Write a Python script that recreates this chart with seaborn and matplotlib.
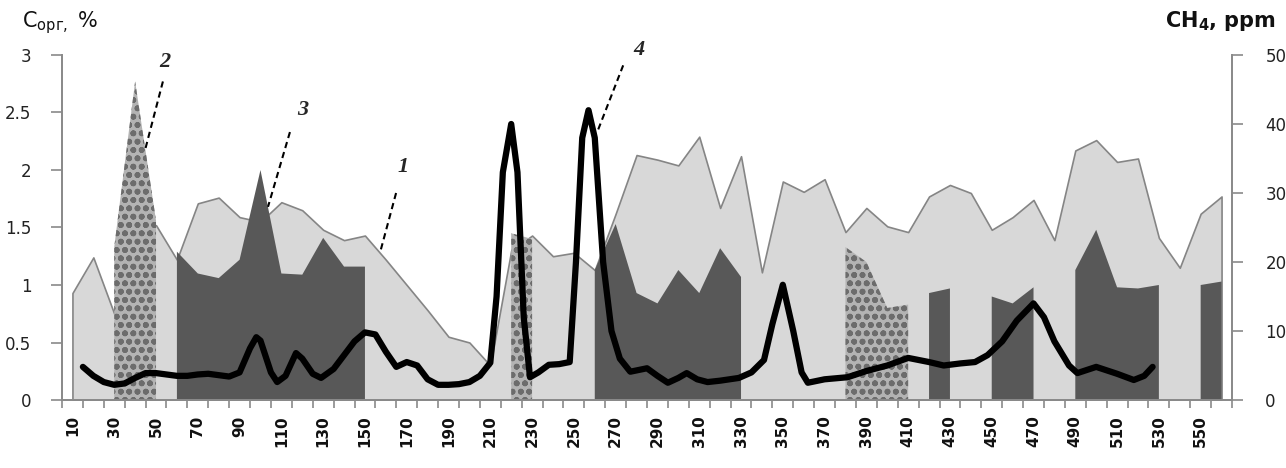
import numpy as np
import matplotlib
matplotlib.use("Agg")
import matplotlib.pyplot as plt
import seaborn as sns

# depth categories (every 10 units)
depth = list(range(10, 561, 10))

# 1 - C org, light grey area (%)
c_org = [0.93, 1.24, 0.75, 1.50, 1.52, 1.22, 1.71, 1.76, 1.59, 1.55,
         1.72, 1.65, 1.48, 1.39, 1.43, 1.22, 1.00, 0.78, 0.55, 0.50,
         0.30, 1.30, 1.43, 1.25, 1.28, 1.13, 1.62, 2.13, 2.09, 2.04,
         2.29, 1.67, 2.12, 1.11, 1.90, 1.81, 1.92, 1.46, 1.67, 1.51,
         1.46, 1.77, 1.87, 1.80, 1.48, 1.59, 1.74, 1.39, 2.17, 2.26,
         2.07, 2.10, 1.41, 1.15, 1.62, 1.77]

# 3 - dark grey intervals (%), NaN = no layer
nan = np.nan
c_dark = [nan, nan, nan, nan, nan, 1.29, 1.10, 1.06, 1.22, 2.00,
          1.10, 1.09, 1.41, 1.16, 1.16, nan, nan, nan, nan, nan,
          nan, nan, nan, nan, nan, 1.13, 1.53, 0.93, 0.84, 1.13,
          0.93, 1.32, 1.07, nan, nan, nan, nan, nan, nan, nan,
          nan, 0.93, 0.97, nan, 0.90, 0.84, 0.98, nan, 1.13, 1.48,
          0.98, 0.97, 1.00, nan, 1.00, 1.03]

# 2 - textured intervals (%)
c_tex = [nan, nan, 1.33, 2.77, 1.56, nan, nan, nan, nan, nan,
         nan, nan, nan, nan, nan, nan, nan, nan, nan, nan,
         nan, 1.45, 1.40, nan, nan, nan, nan, nan, nan, nan,
         nan, nan, nan, nan, nan, nan, nan, 1.33, 1.20, 0.80,
         0.83, nan, nan, nan, nan, nan, nan, nan, nan, nan,
         nan, nan, nan, nan, nan, nan]

# 4 - CH4 (ppm), right axis
ch4_depth = [15, 20, 25, 30, 35, 40, 45, 50, 55, 60, 65, 70, 75, 80, 85, 90, 95, 98,
             100, 105, 108, 112, 117, 120, 125, 129, 135, 140, 145, 150, 155, 160,
             165, 170, 175, 180, 185, 190, 195, 200, 205, 210, 213, 216, 220, 223,
             226, 229, 233, 238, 243, 248, 251, 254, 257, 260, 264, 268, 272, 277,
             285, 290, 295, 300, 304, 309, 314, 320, 329, 335, 341, 345, 350, 355,
             359, 362, 370, 381, 390, 400, 410, 420, 427, 435, 442, 448, 455, 462,
             470, 475, 480, 487, 491, 500, 510, 518, 523, 527]
ch4_ppm = [4.8, 3.5, 2.6, 2.2, 2.4, 3.2, 3.9, 3.9, 3.7, 3.5, 3.5, 3.7, 3.8, 3.6, 3.4,
           4.0, 7.5, 9.1, 8.6, 4.0, 2.6, 3.5, 6.8, 6.0, 3.8, 3.2, 4.5, 6.5, 8.5, 9.8,
           9.5, 7.0, 4.8, 5.5, 5.0, 3.0, 2.2, 2.2, 2.3, 2.6, 3.5, 5.4, 15.0, 33.0,
           40.0, 33.0, 12.0, 3.3, 4.0, 5.1, 5.2, 5.5, 20.0, 38.0, 42.0, 38.0, 20.0,
           10.0, 6.0, 4.1, 4.6, 3.5, 2.5, 3.2, 3.9, 3.0, 2.6, 2.8, 3.2, 4.0, 5.8,
           11.0, 16.7, 10.0, 4.0, 2.5, 3.0, 3.3, 4.2, 5.0, 6.1, 5.5, 5.0, 5.3, 5.5,
           6.5, 8.5, 11.5, 14.0, 12.0, 8.5, 5.0, 3.9, 4.8, 3.8, 2.9, 3.5, 4.8]

left_ticks = [0, 0.5, 1, 1.5, 2, 2.5, 3]
left_labels = ["0", "0.5", "1", "1.5", "2", "2.5", "3"]
right_ticks = [0, 10, 20, 30, 40, 50]
x_labels = list(range(10, 551, 20))

# callouts: (label, text pos, line start, line end) in data units of left axis
callouts = [("2", (54, 2.94), (53.3, 2.77), (44.7, 2.17)),
            ("3", (120, 2.52), (114.1, 2.33), (103.6, 1.68)),
            ("1", (168, 2.03), (164.9, 1.80), (157.2, 1.28)),
            ("4", (281, 3.04), (273.6, 2.91), (261.6, 2.35))]

sns.set_theme(style="white")
plt.rcParams["font.family"] = ["DejaVu Sans"]
plt.rcParams["hatch.linewidth"] = 1.8

fig = plt.figure(figsize=(12.86, 4.68), dpi=100)
ax = fig.add_axes([62 / 1286, 1 - 400 / 468, 1170 / 1286, 345 / 468])

axis_grey = "#8a8a8a"
ax.fill_between(depth, 0, c_org, facecolor="#d8d8d8", edgecolor="#858585", linewidth=1.2)
ax.fill_between(depth, 0, c_dark, facecolor="#585858", linewidth=0)
# mottled (granite-like) layer
ax.fill_between(depth, 0, c_tex, facecolor="#b3b3b3", edgecolor="#6c6c6c",
                hatch="oo", linewidth=0)

ax.set_xlim(5, 565)
ax.set_ylim(0, 3)
ax.set_xticks(x_labels)
ax.set_xticklabels([str(v) for v in x_labels], rotation=90, fontweight="bold",
                   fontsize=11, va="top")
ax.set_xticks(np.arange(5, 566, 10), minor=True)
ax.tick_params(axis="x", which="major", length=0, pad=11, colors="#111111")
ax.tick_params(axis="x", which="minor", length=6, width=1.2, color=axis_grey,
               direction="out", bottom=True)
ax.set_yticks(left_ticks)
ax.set_yticklabels(left_labels, fontsize=12, color="#222222")
ax.tick_params(axis="y", length=8, width=1.2, color=axis_grey, direction="out",
               left=True, pad=14)

ax2 = ax.twinx()
sns.lineplot(x=ch4_depth, y=ch4_ppm, ax=ax2, color="black", linewidth=4.5,
             solid_joinstyle="round", solid_capstyle="round")
ax2.set_ylim(0, 50)
ax2.set_yticks(right_ticks)
ax2.set_yticklabels([str(v) for v in right_ticks], fontsize=12, color="#222222")
ax2.tick_params(axis="y", length=8, width=1.2, color=axis_grey, direction="out",
                right=True, pad=16)
ax2.set_ylabel("")
ax2.grid(False)

for a in (ax, ax2):
    a.spines["top"].set_visible(False)
    for s in ("left", "right", "bottom"):
        a.spines[s].set_color(axis_grey)
        a.spines[s].set_linewidth(1.3)

for label, tpos, p0, p1 in callouts:
    ax.plot([p0[0], p1[0]], [p0[1], p1[1]], color="black", linestyle=(0, (3, 2)),
            linewidth=1.5, clip_on=False, zorder=6)
    ax.text(tpos[0], tpos[1], label, fontsize=16, fontweight="bold", fontstyle="italic",
            family="Liberation Serif", ha="center", va="center", clip_on=False, zorder=6)

fig.text(22 / 1286, 1 - 27 / 468, r"C$_{\mathregular{орг,}}$ %", fontsize=15,
         color="#111111")
fig.text(1165 / 1286, 1 - 27 / 468, r"CH$_\mathbf{4}$, ppm", fontsize=15,
         fontweight="bold", color="#111111")

fig.savefig("out.png", dpi=100)
